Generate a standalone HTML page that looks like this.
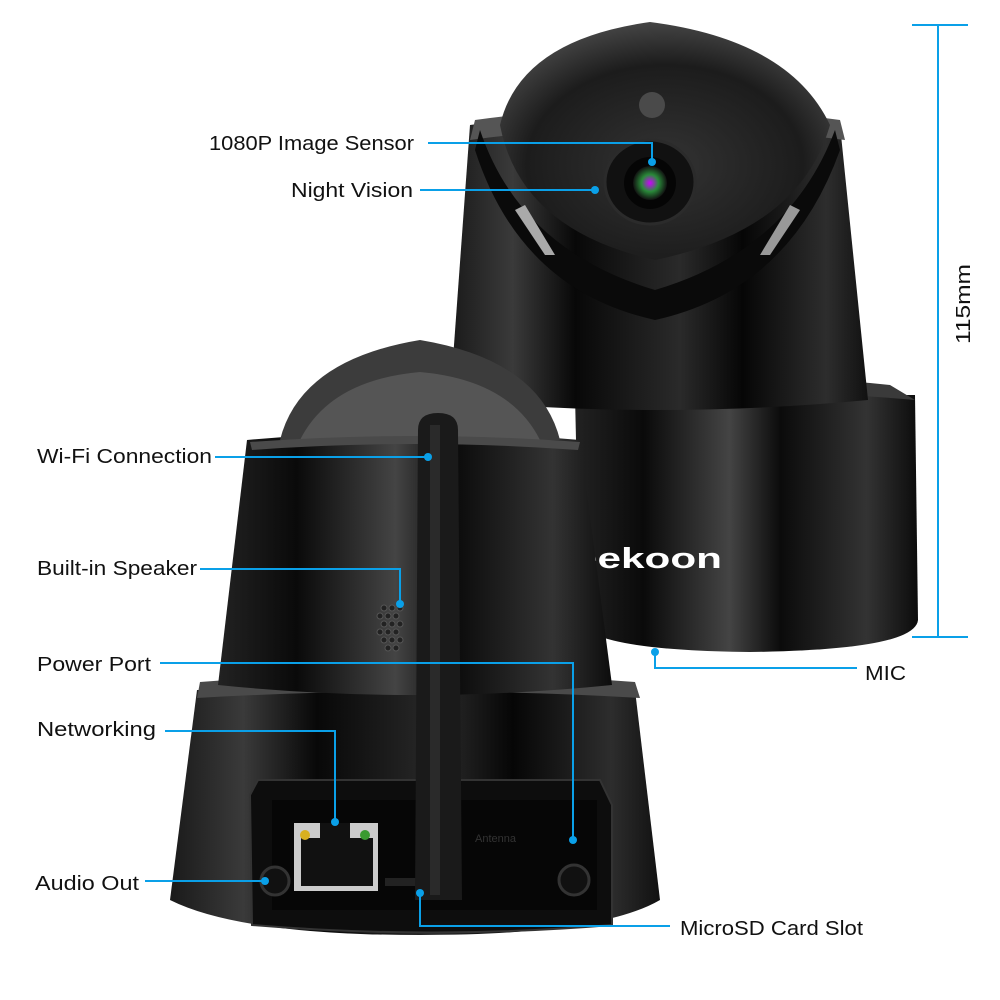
<!DOCTYPE html>
<html><head><meta charset="utf-8"><style>
html,body{margin:0;padding:0;background:#fff;}
svg{display:block}
text{font-family:"Liberation Sans",sans-serif;fill:#111;font-size:20px}
</style></head><body>
<svg width="1000" height="1000" viewBox="0 0 1000 1000" xmlns="http://www.w3.org/2000/svg">
<defs>
<linearGradient id="g1" x1="0" x2="1" y1="0" y2="0">
<stop offset="0" stop-color="#1a1a1a"/><stop offset="0.15" stop-color="#3a3a3a"/><stop offset="0.3" stop-color="#080808"/><stop offset="0.55" stop-color="#2a2a2a"/><stop offset="0.7" stop-color="#060606"/><stop offset="0.9" stop-color="#2d2d2d"/><stop offset="1" stop-color="#111"/>
</linearGradient>
<linearGradient id="g2" x1="0" x2="1" y1="0" y2="0">
<stop offset="0" stop-color="#222"/><stop offset="0.2" stop-color="#0a0a0a"/><stop offset="0.45" stop-color="#444"/><stop offset="0.6" stop-color="#0b0b0b"/><stop offset="0.85" stop-color="#333"/><stop offset="1" stop-color="#0c0c0c"/>
</linearGradient>
<radialGradient id="dome" cx="0.5" cy="0.6" r="0.6">
<stop offset="0" stop-color="#333"/><stop offset="0.7" stop-color="#1c1c1c"/><stop offset="1" stop-color="#444"/>
</radialGradient>
<radialGradient id="lens" cx="0.5" cy="0.5" r="0.5">
<stop offset="0" stop-color="#c0f"/><stop offset="0.5" stop-color="#2a8a3a"/><stop offset="1" stop-color="#111"/>
</radialGradient>
</defs>

<!-- BACK CAMERA (right) -->
<path d="M575 395 L915 395 L918 620 Q915 650 750 652 Q585 650 580 620 Z" fill="url(#g2)"/>
<path d="M575 385 Q750 370 890 385 L915 400 Q750 385 575 400 Z" fill="#3a3a3a"/>
<path d="M470 125 Q655 100 840 125 L868 400 Q655 420 450 400 Z" fill="url(#g1)"/>
<path d="M475 120 Q655 95 840 120 L845 140 Q655 115 470 140 Z" fill="#555"/>
<path d="M500 125 Q520 40 650 22 Q790 40 830 125 Q800 230 655 260 Q520 230 500 125 Z" fill="url(#dome)"/>
<path d="M480 130 Q520 250 655 290 Q790 250 835 130 L840 150 Q790 290 655 320 Q520 290 475 150 Z" fill="#0a0a0a"/>
<path d="M515 210 L545 255 L555 255 L525 205 Z" fill="#aaa"/>
<path d="M790 205 L760 255 L770 255 L800 210 Z" fill="#999"/>
<circle cx="652" cy="105" r="13" fill="#4a4a4a"/>
<ellipse cx="650" cy="182" rx="45" ry="42" fill="#111" stroke="#2b2b2b" stroke-width="3"/>
<circle cx="650" cy="183" r="26" fill="#050505"/>
<circle cx="650" cy="183" r="17" fill="url(#lens)"/>
<text x="574" y="568" style="fill:#fff;font-size:29px;font-weight:bold" textLength="148" lengthAdjust="spacingAndGlyphs">eekoon</text>

<!-- FRONT CAMERA (left) -->
<path d="M197 690 L635 690 L660 900 Q600 935 420 935 Q240 935 170 900 Z" fill="url(#g1)"/>
<path d="M200 682 Q420 665 635 682 L640 698 Q420 685 197 698 Z" fill="#4a4a4a"/>
<path d="M247 440 Q415 425 580 440 L612 685 Q415 705 218 685 Z" fill="url(#g2)"/>
<path d="M280 440 Q300 360 420 340 Q540 360 560 440 Z" fill="#3c3c3c"/>
<path d="M300 440 Q330 380 420 372 Q510 380 540 440 Z" fill="#555"/>
<path d="M250 442 Q415 430 580 442 L578 450 Q415 438 252 450 Z" fill="#4a4a4a"/>
<g fill="#222" stroke="#555" stroke-width="1">
<circle cx="384" cy="608" r="3"/><circle cx="392" cy="608" r="3"/><circle cx="400" cy="608" r="3"/>
<circle cx="380" cy="616" r="3"/><circle cx="388" cy="616" r="3"/><circle cx="396" cy="616" r="3"/>
<circle cx="384" cy="624" r="3"/><circle cx="392" cy="624" r="3"/><circle cx="400" cy="624" r="3"/>
<circle cx="380" cy="632" r="3"/><circle cx="388" cy="632" r="3"/><circle cx="396" cy="632" r="3"/>
<circle cx="384" cy="640" r="3"/><circle cx="392" cy="640" r="3"/><circle cx="400" cy="640" r="3"/>
<circle cx="388" cy="648" r="3"/><circle cx="396" cy="648" r="3"/>
</g>
<path d="M258 780 L600 780 L612 805 L612 925 Q430 940 252 925 L250 795 Z" fill="#0d0d0d" stroke="#333" stroke-width="2"/>
<rect x="272" y="800" width="325" height="110" fill="#060606"/>
<rect x="294" y="823" width="84" height="68" fill="#ccc"/>
<rect x="301" y="838" width="72" height="48" fill="#111"/>
<rect x="320" y="823" width="30" height="15" fill="#111"/>
<circle cx="305" cy="835" r="5" fill="#d8b020"/><circle cx="365" cy="835" r="5" fill="#3a9a30"/>
<circle cx="275" cy="881" r="14" fill="#111" stroke="#333" stroke-width="3"/>
<circle cx="574" cy="880" r="15" fill="#111" stroke="#333" stroke-width="3"/>
<rect x="385" y="878" width="75" height="8" fill="#222"/>
<text x="475" y="842" style="fill:#333;font-size:11px">Antenna</text>
<path d="M418 430 Q418 413 438 413 Q458 413 458 430 L462 900 L415 900 Z" fill="#1a1a1a"/>
<rect x="430" y="425" width="10" height="470" fill="#2a2a2a"/>

<g stroke="#0aa0e8" stroke-width="2" fill="none">
<path d="M428 143 L652 143 L652 160"/>
<path d="M420 190 L595 190"/>
<path d="M215 457 L428 457"/>
<path d="M200 569 L400 569 L400 604"/>
<path d="M160 663 L573 663 L573 840"/>
<path d="M165 731 L335 731 L335 822"/>
<path d="M145 881 L265 881"/>
<path d="M670 926 L420 926 L420 895"/>
<path d="M857 668 L655 668 L655 653"/>
<path d="M938 25 L938 637 M912 25 L968 25 M912 637 L968 637"/>
</g>
<g fill="#0aa0e8">
<circle cx="652" cy="162" r="4"/><circle cx="595" cy="190" r="4"/><circle cx="428" cy="457" r="4"/>
<circle cx="400" cy="604" r="4"/><circle cx="573" cy="840" r="4"/><circle cx="335" cy="822" r="4"/>
<circle cx="265" cy="881" r="4"/><circle cx="420" cy="893" r="4"/><circle cx="655" cy="652" r="4"/>
</g>

<g>
<text x="209" y="150" textLength="205" lengthAdjust="spacingAndGlyphs">1080P Image Sensor</text>
<text x="291" y="197" textLength="122" lengthAdjust="spacingAndGlyphs">Night Vision</text>
<text x="37" y="463" textLength="175" lengthAdjust="spacingAndGlyphs">Wi-Fi Connection</text>
<text x="37" y="575" textLength="160" lengthAdjust="spacingAndGlyphs">Built-in Speaker</text>
<text x="37" y="671" textLength="114" lengthAdjust="spacingAndGlyphs">Power Port</text>
<text x="37" y="736" textLength="119" lengthAdjust="spacingAndGlyphs">Networking</text>
<text x="35" y="890" textLength="104" lengthAdjust="spacingAndGlyphs">Audio Out</text>
<text x="680" y="935" textLength="183" lengthAdjust="spacingAndGlyphs">MicroSD Card Slot</text>
<text x="865" y="680" textLength="41" lengthAdjust="spacingAndGlyphs">MIC</text>
<text x="0" y="0" transform="translate(970,344) rotate(-90)" textLength="80" lengthAdjust="spacingAndGlyphs">115mm</text>
</g>
</svg>
</body></html>
